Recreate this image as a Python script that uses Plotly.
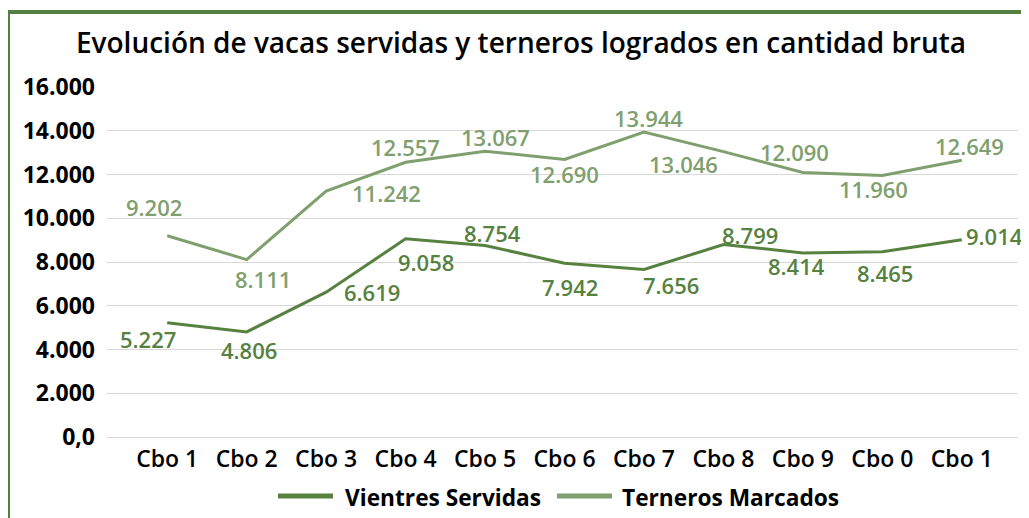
import plotly.graph_objects as go

categories = ["Cbo 1", "Cbo 2", "Cbo 3", "Cbo 4", "Cbo 5", "Cbo 6",
              "Cbo 7", "Cbo 8", "Cbo 9", "Cbo 0", "Cbo 1"]
vientres_servidas = [5227, 4806, 6619, 9058, 8754, 7942, 7656, 8799, 8414, 8465, 9014]
terneros_marcados = [9202, 8111, 11242, 12557, 13067, 12690, 13944, 13046, 12090, 11960, 12649]
y_tick_values = [0, 2000, 4000, 6000, 8000, 10000, 12000, 14000, 16000]
y_tick_labels = ["0,0", "2.000", "4.000", "6.000", "8.000", "10.000", "12.000", "14.000", "16.000"]

# label offsets (pixels: dx right, dy down)
dark_dx = [-19, 2, 46, 20, 7, 5, 27, 27, -6, 3, 33]
dark_dy = [16, 18, 0, 23, -13, 24, 15, -10, 13, 21, -4]
light_dx = [-13, 16, 60, 0, 10, 0, 5, -40, -8, -9, 8]
light_dy = [-29, 19, 2, -15, -14, 15, -14, 12, -21, 14, -14]

DARK = "#56813F"
LIGHT = "#7FA06E"
BORDER = "#557F45"
FONT = "Open Sans"

OFF = 8  # page body margin
PAGE_W, PAGE_H = 1029, 518
W, H = PAGE_W - OFF, PAGE_H - OFF
# plot area in page pixels
PL, PR, PT, PB = 107, 1018, 87, 437
L, R, T, B = PL - OFF, PAGE_W - PR, PT - OFF, PAGE_H - PB
PW, PH = PR - PL, PB - PT

def px(x):
    return (x - PL) / PW

def py(y):
    return (PB - y) / PH

x_idx = list(range(len(categories)))

fig = go.Figure()
fig.add_trace(go.Scatter(x=x_idx, y=vientres_servidas, mode="lines",
                         line=dict(color=DARK, width=3), name="Vientres Servidas",
                         showlegend=False))
fig.add_trace(go.Scatter(x=x_idx, y=terneros_marcados, mode="lines",
                         line=dict(color=LIGHT, width=3), name="Terneros Marcados",
                         showlegend=False))

def fmt(v):
    return f"{v:,}".replace(",", ".")

annotations = []
for i, v in enumerate(vientres_servidas):
    annotations.append(dict(x=i, y=v, xref="x", yref="y", text=fmt(v), showarrow=False,
                            xshift=dark_dx[i], yshift=-dark_dy[i],
                            font=dict(family=FONT, size=22, color=DARK, weight=600)))
for i, v in enumerate(terneros_marcados):
    annotations.append(dict(x=i, y=v, xref="x", yref="y", text=fmt(v), showarrow=False,
                            xshift=light_dx[i], yshift=-light_dy[i],
                            font=dict(family=FONT, size=22, color=LIGHT, weight=600)))

# custom legend
legend_items = [("Vientres Servidas", DARK, 278, 333, 343),
                ("Terneros Marcados", LIGHT, 557, 612, 620)]
shapes = []
for name, col, x0, x1, xt in legend_items:
    shapes.append(dict(type="line", xref="paper", yref="paper",
                       x0=px(x0), x1=px(x1), y0=py(496), y1=py(496),
                       line=dict(color=col, width=5)))
    annotations.append(dict(x=px(xt), y=py(497), xref="paper", yref="paper",
                            text=name, showarrow=False, xanchor="left", yanchor="middle",
                            font=dict(family=FONT, size=22.7, color="#000000", weight=700)))

# chart border
shapes.append(dict(type="rect", xref="paper", yref="paper",
                   x0=px(8), x1=px(PAGE_W + 20), y0=py(PAGE_H + 20), y1=py(12),
                   line=dict(color=BORDER, width=4), layer="below"))

fig.update_layout(
    width=W, height=H,
    margin=dict(l=L, r=R, t=T, b=B),
    paper_bgcolor="white", plot_bgcolor="white",
    title=dict(text="Evolución de vacas servidas y terneros logrados en cantidad bruta",
               x=(521 - OFF) / W, xref="container", xanchor="center",
               y=1 - (43 - OFF) / H, yref="container", yanchor="middle",
               font=dict(family=FONT, size=28, color="#000000", weight=600)),
    xaxis=dict(range=[-0.758, 10.707], tickvals=x_idx, ticktext=categories,
               showgrid=False, zeroline=False, showline=False, ticks="",
               ticklabelstandoff=6,
               tickfont=dict(family=FONT, size=23, color="#000000", weight=600)),
    yaxis=dict(range=[0, 16000], tickvals=y_tick_values, ticktext=y_tick_labels,
               showgrid=True, gridcolor="#D9D9D9", gridwidth=1,
               zeroline=True, zerolinecolor="#D9D9D9", zerolinewidth=1,
               showline=False, ticks="", ticklabelstandoff=11,
               tickfont=dict(family=FONT, size=23, color="#000000", weight=700)),
    annotations=annotations,
    shapes=shapes,
    showlegend=False,
)

fig.write_html("out.html")
